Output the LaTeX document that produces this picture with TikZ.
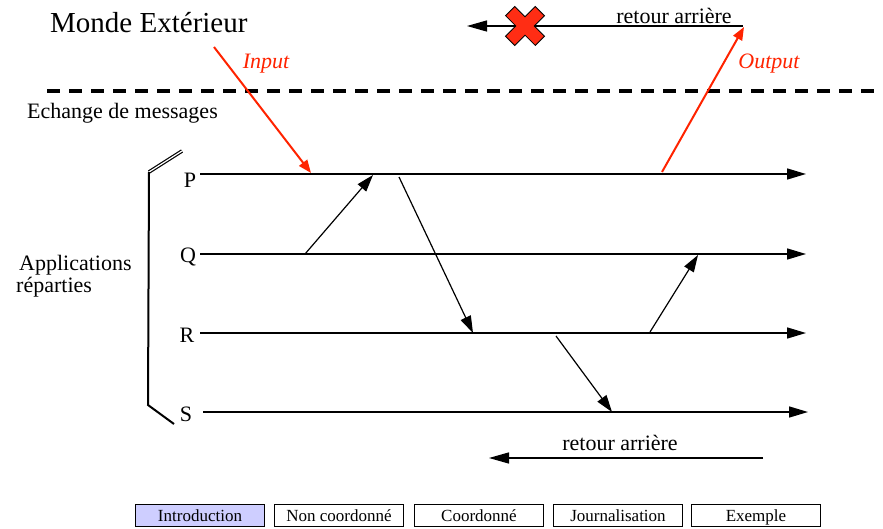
\documentclass[tikz,border=0pt]{standalone}
\usepackage{fontspec}
\setmainfont{Liberation Serif}
\usetikzlibrary{arrows.meta}
\definecolor{msgred}{RGB}{255,35,0}
\definecolor{crossred}{RGB}{255,45,20}
\definecolor{navfill}{RGB}{206,206,255}
\begin{document}
\begin{tikzpicture}[x=1pt,y=-1pt,
  txt/.style={inner sep=0pt,font=\fontsize{22}{26}\selectfont},
  timeline/.style={line width=1.5pt,-{Triangle[length=19pt,width=11pt]}},
  msg/.style={line width=1.2pt,-{Triangle[length=17pt,width=11pt]}},
  extmsg/.style={line width=2pt,draw=msgred,-{Triangle[length=13pt,width=10pt]}},
  extlabel/.style={inner sep=0pt,text=msgred,font=\fontsize{22}{26}\selectfont\itshape},
  navbtn/.style={draw,line width=0.8pt,minimum width=129pt,minimum height=22pt,inner sep=0pt,
    text height=14pt,text depth=2pt,font=\fontsize{17}{19}\selectfont}]
\useasboundingbox (0,0) rectangle (883,529);

% outside world and the boundary
\node[txt,anchor=base west,font=\fontsize{29}{33}\selectfont] (world) at (50,33) {Monde Extérieur};
\draw[line width=4pt,dash pattern=on 13pt off 9pt] (47,91) coordinate (b0) -- (883,91) coordinate (b1);
\node[txt,anchor=base west] (echange) at (27,119) {Echange de messages};

% group bracket and its label
\draw[line width=1.2pt,double,double distance=1.2pt] (149,172) coordinate (br0) -- (182,151) coordinate (br1);
\draw[line width=2pt] (br0) -- (148,405) coordinate (br2) -- (174,424) coordinate (br3);
\node[txt,anchor=base west] (apps1) at (19,271) {Applications};
\node[txt,anchor=base west] (apps2) at (16,292) {réparties};

% process time lines
\node[txt] (P) at (190,180) {P};
\node[txt] (Q) at (188,257) {Q};
\node[txt] (R) at (187,335) {R};
\node[txt] (S) at (186,414) {S};
\coordinate (P0) at (200,174); \coordinate (P1) at (806,174);
\coordinate (Q0) at (200,254); \coordinate (Q1) at (806,254);
\coordinate (R0) at (200,333); \coordinate (R1) at (806,333);
\coordinate (S0) at (203,412); \coordinate (S1) at (808,412);
\draw[timeline] (P0) -- (P1);
\draw[timeline] (Q0) -- (Q1);
\draw[timeline] (R0) -- (R1);
\draw[timeline] (S0) -- (S1);

% messages between processes
\coordinate (m1a) at (305,254); \coordinate (m1b) at (373,175);
\coordinate (m2a) at (399,177); \coordinate (m2b) at (473,333);
\coordinate (m3a) at (650,332); \coordinate (m3b) at (698,255);
\coordinate (m4a) at (556,336); \coordinate (m4b) at (612,412);
\draw[msg] (m1a) -- (m1b);
\draw[msg] (m2a) -- (m2b);
\draw[msg] (m3a) -- (m3b);
\draw[msg] (m4a) -- (m4b);

% exchanges with the outside world
\coordinate (inA) at (214,47); \coordinate (inB) at (311,173);
\coordinate (outA) at (662,172); \coordinate (outB) at (744,27);
\draw[extmsg] (inA) -- (inB);
\draw[extmsg] (outA) -- (outB);
\node[extlabel] (input) at (266,64) {Input};
\node[extlabel] (output) at (769,64) {Output};

% forbidden rollback in the outside world
\coordinate (rbA) at (743,26); \coordinate (rbB) at (467,26);
\draw[line width=1.3pt,-{Triangle[length=20pt,width=11pt]}] (rbA) -- (rbB);
\node[txt] (rbtop) at (674,16) {retour arrière};
\draw[fill=crossred,line width=0.8pt,shift={(525,26)},rotate=45]
  (6.5,21) -- (6.5,6.5) -- (21,6.5) -- (21,-6.5) -- (6.5,-6.5) -- (6.5,-21)
  -- (-6.5,-21) -- (-6.5,-6.5) -- (-21,-6.5) -- (-21,6.5) -- (-6.5,6.5) -- (-6.5,21) -- cycle;

% rollback inside the system
\coordinate (rb2A) at (763,458); \coordinate (rb2B) at (489,458);
\draw[line width=1.3pt,-{Triangle[length=20pt,width=11pt]}] (rb2A) -- (rb2B);
\node[txt] (rbbot) at (620,443) {retour arrière};

% navigation bar
\node[navbtn,fill=navfill] (nav1) at (200,515) {Introduction};
\node[navbtn] (nav2) at (339,515) {Non coordonné};
\node[navbtn] (nav3) at (479,515) {Coordonné};
\node[navbtn] (nav4) at (618,515) {Journalisation};
\node[navbtn] (nav5) at (756,515) {Exemple};
\end{tikzpicture}
\end{document}
